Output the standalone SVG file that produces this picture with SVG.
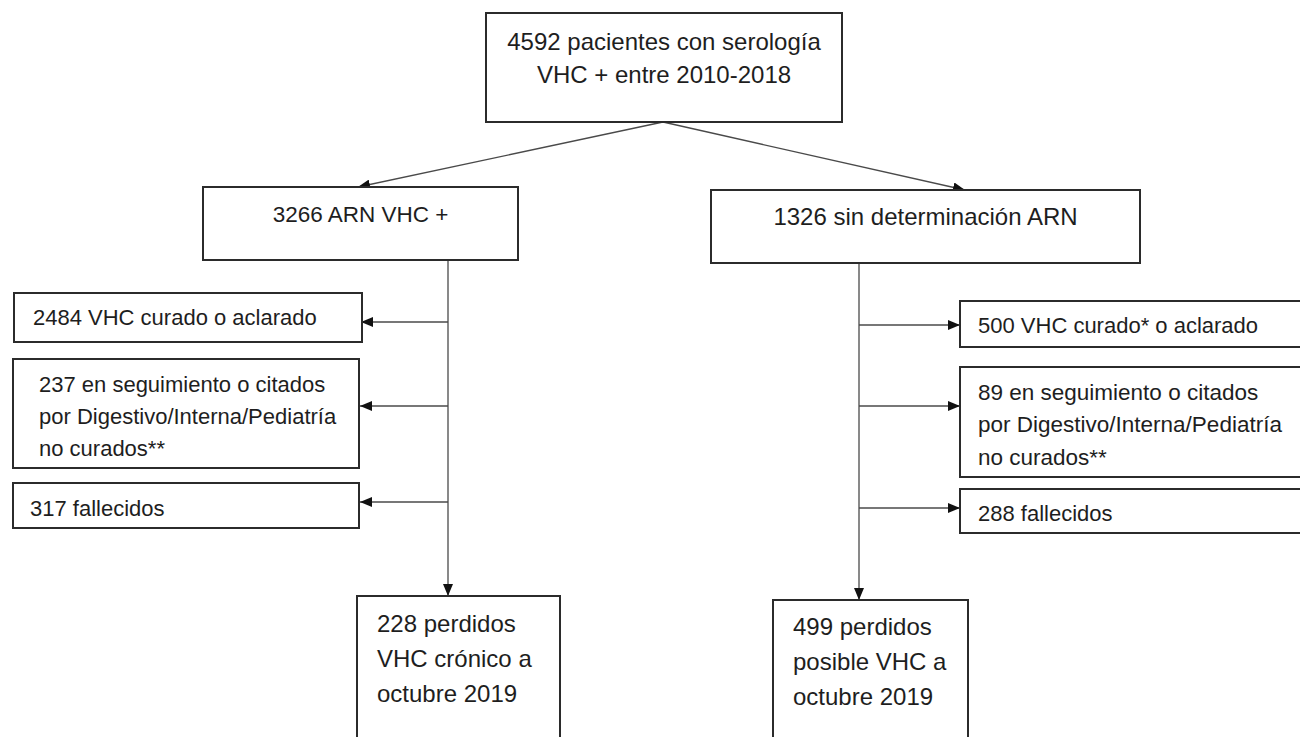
<svg xmlns="http://www.w3.org/2000/svg" width="1300" height="737" viewBox="0 0 1300 737">
<style>
.box{fill:#fff;stroke:#2b2b2b;stroke-width:2}
.t{font-family:"Liberation Sans",Arial,sans-serif;fill:#1e1e1e}
.c{text-anchor:middle}
.s22{font-size:22px}
.s23{font-size:22.5px}
.s24{font-size:24px}
.conn{stroke:#4a4a4a;stroke-width:1.3;fill:none;marker-end:url(#ah)}
</style>
<defs>
<marker id="ah" markerUnits="userSpaceOnUse" markerWidth="13" markerHeight="10" refX="12" refY="5" orient="auto">
<path d="M0,0 L12,5 L0,10 z" fill="#111"/>
</marker>
</defs>
<rect width="1300" height="737" fill="#fff"/>
<g id="connectors">
<line class="conn" x1="663" y1="122" x2="358" y2="187"/>
<line class="conn" x1="663" y1="122" x2="965" y2="190"/>
<line class="conn" x1="448" y1="260" x2="448" y2="596"/>
<line class="conn" x1="859" y1="263" x2="859" y2="600"/>
<line class="conn" x1="448" y1="322" x2="361" y2="322"/>
<line class="conn" x1="448" y1="406" x2="360" y2="406"/>
<line class="conn" x1="448" y1="502" x2="360" y2="502"/>
<line class="conn" x1="859" y1="325" x2="960" y2="325"/>
<line class="conn" x1="859" y1="406" x2="960" y2="406"/>
<line class="conn" x1="859" y1="508" x2="960" y2="508"/>
</g>
<g id="n-total">
<rect class="box" x="486" y="13" width="356" height="109"/>
<text class="t c s24" x="664" y="50">4592 pacientes con serología</text>
<text class="t c s24" x="664" y="83">VHC + entre 2010-2018</text>
</g>
<g id="n-arn">
<rect class="box" x="203" y="187" width="315" height="73"/>
<text class="t c s23" x="360.5" y="222">3266 ARN VHC +</text>
</g>
<g id="n-sin">
<rect class="box" x="711" y="190" width="429" height="73"/>
<text class="t c s24" x="925.5" y="225">1326 sin determinación ARN</text>
</g>
<g id="n-l1">
<rect class="box" x="14" y="293" width="348" height="49"/>
<text class="t s22" x="33" y="325">2484 VHC curado o aclarado</text>
</g>
<g id="n-l2">
<rect class="box" x="13" y="359" width="346" height="109"/>
<text class="t s22" x="39" y="392">237 en seguimiento o citados</text>
<text class="t s22" x="39" y="424">por Digestivo/Interna/Pediatría</text>
<text class="t s22" x="39" y="456">no curados**</text>
</g>
<g id="n-l3">
<rect class="box" x="13" y="483" width="346" height="45"/>
<text class="t s22" x="30" y="516">317 fallecidos</text>
</g>
<g id="n-r1">
<rect class="box" x="960" y="301" width="400" height="46"/>
<text class="t s22" x="978" y="333">500 VHC curado* o aclarado</text>
</g>
<g id="n-r2">
<rect class="box" x="960" y="367" width="400" height="110"/>
<text class="t s23" x="978" y="400">89 en seguimiento o citados</text>
<text class="t s23" x="978" y="432">por Digestivo/Interna/Pediatría</text>
<text class="t s23" x="978" y="465">no curados**</text>
</g>
<g id="n-r3">
<rect class="box" x="960" y="489" width="400" height="44"/>
<text class="t s22" x="978" y="521">288 fallecidos</text>
</g>
<g id="n-b1">
<rect class="box" x="357" y="596" width="203" height="170"/>
<text class="t s24" x="377" y="632">228 perdidos</text>
<text class="t s24" x="377" y="667">VHC crónico a</text>
<text class="t s24" x="377" y="702">octubre 2019</text>
</g>
<g id="n-b2">
<rect class="box" x="773" y="600" width="195" height="170"/>
<text class="t s24" x="793" y="635">499 perdidos</text>
<text class="t s24" x="793" y="670">posible VHC a</text>
<text class="t s24" x="793" y="705">octubre 2019</text>
</g>
</svg>
